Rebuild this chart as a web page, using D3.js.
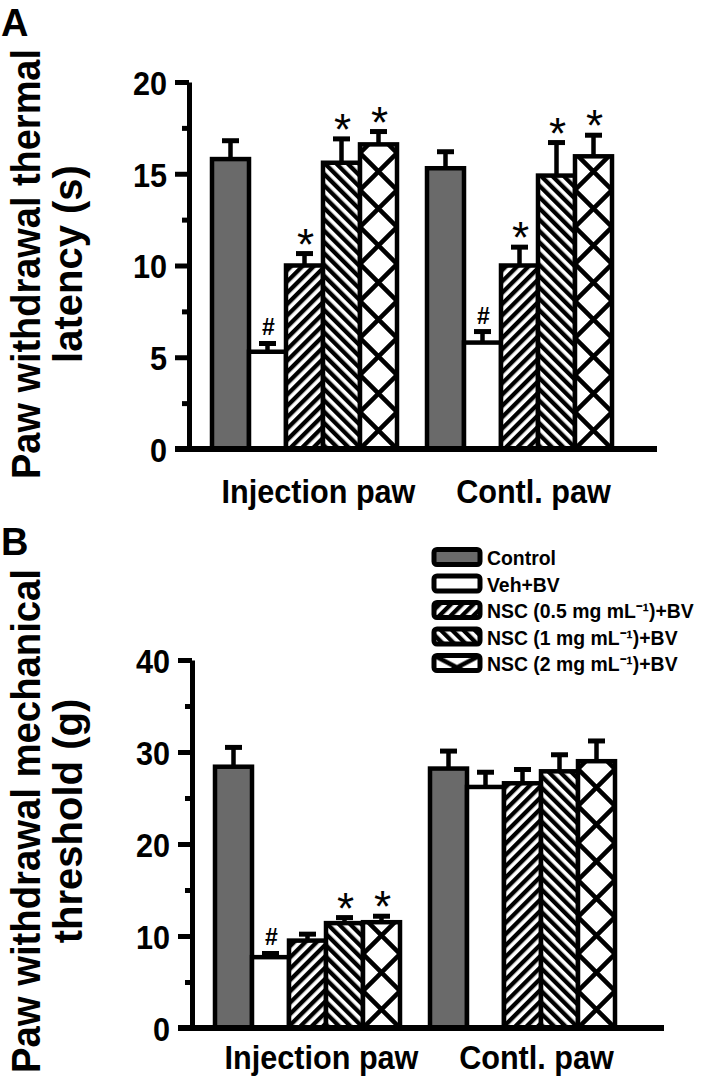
<!DOCTYPE html>
<html><head><meta charset="utf-8">
<script src="https://cdn.jsdelivr.net/npm/d3@7"></script>
<style>body{margin:0;background:#fff}svg{display:block}text{font-family:"Liberation Sans",Arial,sans-serif;font-weight:bold}</style>
</head><body>
<svg id="c" width="709" height="1084"></svg>
<script>
// ---- data ----
const groups = ["Injection paw", "Contl. paw"];
const series = ["Control", "Veh+BV", "NSC (0.5 mg mL⁻¹)+BV", "NSC (1 mg mL⁻¹)+BV", "NSC (2 mg mL⁻¹)+BV"];
const thermalInjection = [15.8, 5.3, 10.0, 15.6, 16.6];
const thermalInjectionErr = [1.0, 0.45, 0.65, 1.3, 0.7];
const thermalContl = [15.3, 5.8, 10.0, 14.9, 15.95];
const thermalContlErr = [0.9, 0.6, 1.0, 1.8, 1.15];
const mechInjection = [28.4, 7.7, 9.5, 11.4, 11.5];
const mechInjectionErr = [2.1, 0.4, 0.7, 0.6, 0.65];
const mechContl = [28.2, 26.2, 26.6, 27.9, 29.0];
const mechContlErr = [1.9, 1.6, 1.5, 1.8, 2.2];
const thermalMarks = [["", "#", "*", "*", "*"], ["", "#", "*", "*", "*"]];
const mechMarks = [["", "#", "", "*", "*"], ["", "", "", "", ""]];
const thermalTicks = [0, 5, 10, 15, 20];
const mechTicks = [0, 10, 20, 30, 40];

const svg = d3.select("#c");
const defs = svg.append("defs");
function condense(sel, f) {
  sel.each(function () {
    const L = this.getComputedTextLength();
    d3.select(this).attr("textLength", L * f).attr("lengthAdjust", "spacingAndGlyphs");
  });
}
function stripe(id, ang) {
  const p = defs.append("pattern").attr("id", id).attr("patternUnits", "userSpaceOnUse")
    .attr("width", 8).attr("height", 8).attr("patternTransform", `rotate(${ang})`);
  p.append("rect").attr("width", 8).attr("height", 8).attr("fill", "#fff");
  p.append("rect").attr("width", 4.3).attr("height", 8).attr("fill", "#000");
}
stripe("fwd", 45);
stripe("bwd", -45);
let xid = 0;
function cross(x, y, w, h) {
  const id = "x" + (xid++);
  const p = defs.append("pattern").attr("id", id).attr("patternUnits", "userSpaceOnUse")
    .attr("x", x).attr("y", y).attr("width", w).attr("height", h);
  p.append("rect").attr("width", w).attr("height", h).attr("fill", "#fff");
  p.append("path").attr("d", `M0,0L${w},${h}M${w},0L0,${h}M-2,${h-2}L2,${h+2}M${w-2},-2L${w+2},2`)
    .attr("stroke", "#000").attr("stroke-width", 4.5);
  return `url(#${id})`;
}
function fillFor(i, x, y, w, h) {
  if (i === 0) return "#6a6a6a";
  if (i === 1) return "#fff";
  if (i === 2) return "url(#fwd)";
  if (i === 3) return "url(#bwd)";
  return cross(x, y, w, h);
}

function panel(o) {
  const y = d3.scaleLinear().domain([0, o.max]).range([o.y0, o.y1]);
  const gx = d3.scaleBand().domain(groups).range([o.gx0, o.gx1]).paddingInner(30 / 215).paddingOuter(0);
  const sx = d3.scaleBand().domain(series).range([0, gx.bandwidth()]);
  const g = svg.append("g");
  // y axis major
  const ax = g.append("g").attr("transform", `translate(${o.ax},0)`)
    .call(d3.axisLeft(y).tickValues(o.ticks).tickSize(14).tickSizeOuter(0).tickPadding(8));
  ax.select(".domain").attr("stroke-width", 5).attr("stroke", "#000");
  ax.selectAll(".tick line").attr("stroke-width", 5).attr("stroke", "#000");
  ax.selectAll(".tick text").attr("font-size", 34).attr("fill", "#000").attr("dy", "0.36em")
    .style("font-family", '"Liberation Sans",Arial,sans-serif').style("font-weight", "bold");
  condense(ax.selectAll(".tick text"), 0.9);
  // minor ticks
  const minor = o.ticks.slice(0, -1).map((t, i) => (t + o.ticks[i + 1]) / 2);
  const mx = g.append("g").attr("transform", `translate(${o.ax},0)`)
    .call(d3.axisLeft(y).tickValues(minor).tickSize(7).tickFormat(""));
  mx.select(".domain").remove();
  mx.selectAll(".tick line").attr("stroke-width", 5).attr("stroke", "#000");

  const data = [];
  o.vals.forEach((arr, gi) => arr.forEach((v, si) => data.push({ g: groups[gi], si, v, e: o.errs[gi][si], m: o.marks[gi][si] })));
  const bw = sx.bandwidth();
  data.forEach(d => { d.x = gx(d.g) + sx(series[d.si]); d.cx = d.x + bw / 2; });
  // bars
  g.selectAll("rect.bar").data(data).enter().append("rect").attr("class", "bar")
    .attr("x", d => d.x).attr("width", bw)
    .attr("y", d => y(d.v)).attr("height", d => y(0) - y(d.v))
    .attr("fill", d => fillFor(d.si, d.x, y(0), bw, bw))
    .attr("stroke", "#000").attr("stroke-width", 4.5);
  // error bars
  g.selectAll("line.eb").data(data).enter().append("line").attr("class", "eb")
    .attr("x1", d => d.cx).attr("x2", d => d.cx).attr("y1", d => y(d.v)).attr("y2", d => y(d.v + d.e))
    .attr("stroke", "#000").attr("stroke-width", 4.5);
  g.selectAll("line.cap").data(data).enter().append("line").attr("class", "cap")
    .attr("x1", d => d.cx - 8.5).attr("x2", d => d.cx + 8.5).attr("y1", d => y(d.v + d.e)).attr("y2", d => y(d.v + d.e))
    .attr("stroke", "#000").attr("stroke-width", 5);
  // marks
  g.selectAll("text.mk").data(data.filter(d => d.m)).enter().append("text").attr("class", "mk")
    .attr("x", d => d.cx + 1).attr("y", d => y(d.v + d.e) - (d.m === "#" ? 8 : -6))
    .attr("text-anchor", "middle")
    .attr("font-size", d => d.m === "#" ? 23 : 44)
    .style("font-weight", d => d.m === "#" ? "bold" : "normal")
    .text(d => d.m);
  // x axis line
  g.append("line").attr("x1", o.ax - 14).attr("x2", o.xEnd).attr("y1", y(0)).attr("y2", y(0))
    .attr("stroke", "#000").attr("stroke-width", 6);
  // group labels
  const gl = g.selectAll("text.gl").data(groups).enter().append("text").attr("class", "gl")
    .attr("x", d => gx(d) + gx.bandwidth() / 2 + 14).attr("y", o.labY)
    .attr("text-anchor", "middle").attr("font-size", 34).text(d => d);
  condense(gl, 0.9);
  // title
  const t = g.append("text").attr("font-size", 40).attr("text-anchor", "middle")
    .attr("transform", `translate(0,${o.tc}) rotate(-90)`);
  t.append("tspan").attr("x", 0).attr("y", 40).attr("textLength", o.tl).attr("lengthAdjust", "spacingAndGlyphs").text(o.title[0]);
  t.append("tspan").attr("x", 0).attr("y", 82).text(o.title[1]);
  g.append("text").attr("x", 1).attr("y", o.letterY).attr("font-size", 38).text(o.letter);
  return { y, gx, sx };
}

panel({ max: 20, y0: 449, y1: 82, ax: 189, gx0: 212, gx1: 612, xEnd: 657, ticks: thermalTicks,
  vals: [thermalInjection, thermalContl], errs: [thermalInjectionErr, thermalContlErr], marks: thermalMarks,
  labY: 503, tc: 264, tl: 430, title: ["Paw withdrawal thermal", "latency (s)"], letter: "A", letterY: 36 });
panel({ max: 40, y0: 1028, y1: 660, ax: 192, gx0: 215, gx1: 615, xEnd: 664, ticks: mechTicks,
  vals: [mechInjection, mechContl], errs: [mechInjectionErr, mechContlErr], marks: mechMarks,
  labY: 1069, tc: 821, tl: 504, title: ["Paw withdrawal mechanical", "threshold (g)"], letter: "B", letterY: 555 });

// legend
const lg = svg.append("g");
const legendY = d3.scaleLinear().domain([0, 4]).range([557, 663]);
series.forEach((s, i) => {
  const cy = legendY(i);
  const x = 434, w = 46, h = 15;
  lg.append("rect").attr("x", x).attr("y", cy - h / 2).attr("width", w).attr("height", h).attr("rx", 3)
    .attr("fill", fillFor(i, x, cy - h / 2, w, 24)).attr("stroke", "#000").attr("stroke-width", 5);
  const t = lg.append("text").attr("x", 487).attr("y", cy + 8).attr("font-size", 20).text(s);
  condense(t, 0.97);
});
</script>
</body></html>
